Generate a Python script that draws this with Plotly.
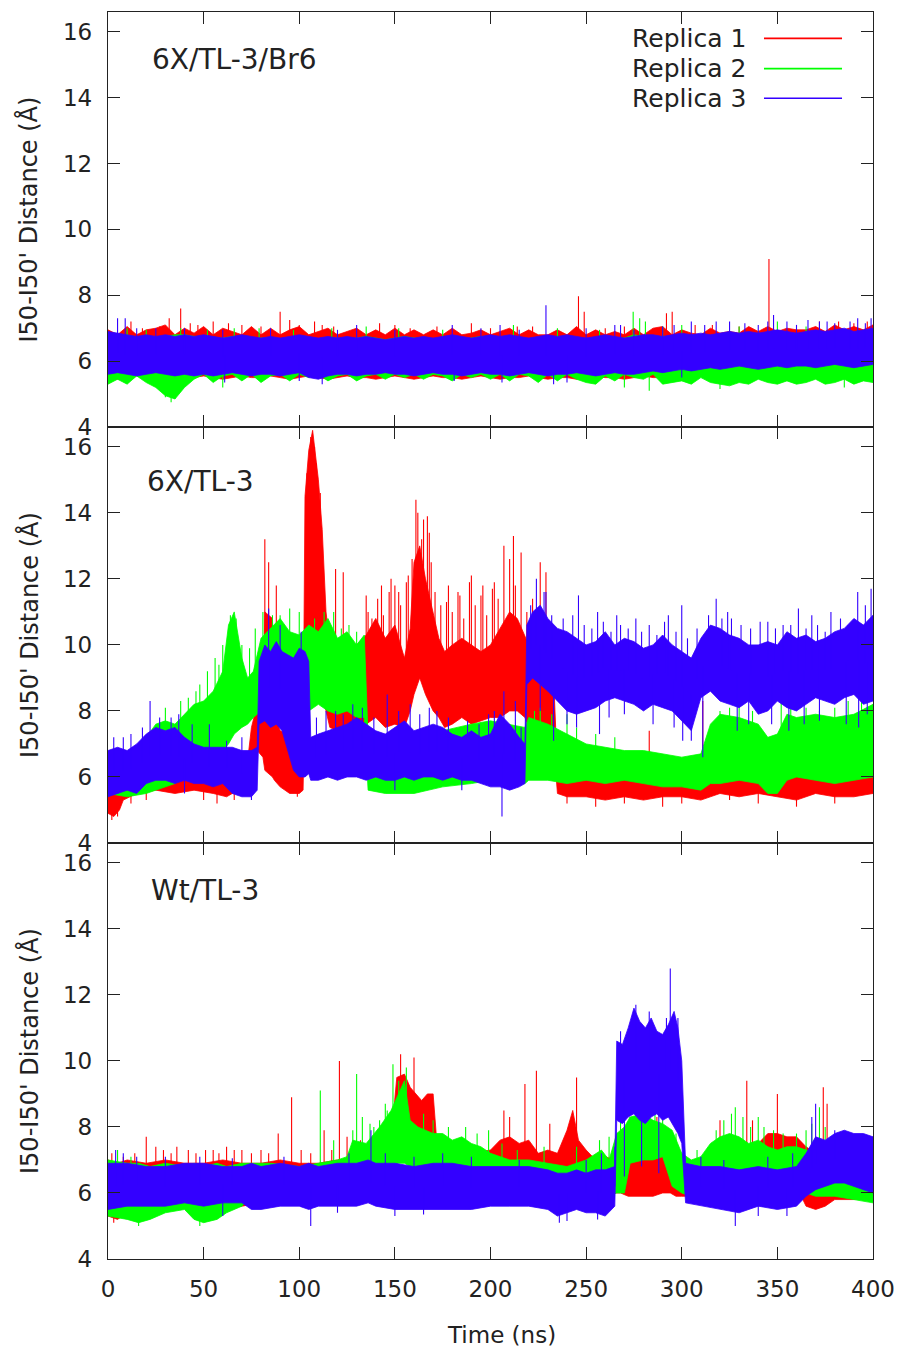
import numpy as np
import plotly.graph_objects as go

# ---------------- data ----------------
SERIES_NAMES = ["Replica 1", "Replica 2", "Replica 3"]
SERIES_COLORS = ["#ff0000", "#00ff00", "#3300ff"]
PANEL_LABELS = ["6X/TL-3/Br6", "6X/TL-3", "Wt/TL-3"]
X_TICKS = [0, 50, 100, 150, 200, 250, 300, 350, 400]
Y_TICKS = [4, 6, 8, 10, 12, 14, 16]

# Panel 1 : common 5-ns grid
P1_T = [0, 5, 10, 15, 20, 25, 30, 35, 40,
        45, 50, 55, 60, 65, 70, 75, 80,
        85, 90, 95, 100, 105, 110, 115, 120,
        125, 130, 135, 140, 145, 150, 155, 160,
        165, 170, 175, 180, 185, 190, 195, 200,
        205, 210, 215, 220, 225, 230, 235, 240,
        245, 250, 255, 260, 265, 270, 275, 280,
        285, 290, 295, 300, 305, 310, 315, 320,
        325, 330, 335, 340, 345, 350, 355, 360,
        365, 370, 375, 380, 385, 390, 395, 400]
P1_R1_HI = [6.95, 6.8, 7.05, 6.8, 6.95, 7.0, 7.1, 6.8, 7.0,
            6.85, 7.05, 6.8, 7.0, 6.9, 6.8, 7.05, 6.8,
            7.0, 6.8, 6.95, 7.05, 6.8, 6.9, 7.0, 6.8,
            6.9, 7.0, 6.8, 6.95, 6.8, 7.0, 6.8, 6.95,
            6.8, 6.95, 6.8, 7.0, 6.8, 6.85, 6.95, 6.8,
            6.9, 7.0, 6.8, 6.95, 6.8, 6.8, 6.95, 6.8,
            7.05, 6.8, 6.95, 6.8, 6.9, 6.8, 7.0, 6.8,
            7.0, 7.05, 6.8, 6.95, 6.85, 6.8, 7.0, 6.85,
            6.9, 6.85, 7.05, 6.9, 7.05, 6.9, 7.0, 6.95,
            6.95, 7.05, 6.9, 7.1, 6.95, 7.05, 6.95, 7.1]
P1_R1_LO = [5.5, 5.45, 5.5, 5.55, 5.5, 5.45, 5.5, 5.55, 5.5,
            5.5, 5.55, 5.5, 5.45, 5.5, 5.55, 5.5, 5.5,
            5.55, 5.5, 5.45, 5.5, 5.55, 5.5, 5.45, 5.5,
            5.55, 5.5, 5.5, 5.45, 5.5, 5.55, 5.5, 5.45,
            5.5, 5.55, 5.5, 5.5, 5.45, 5.5, 5.55, 5.5,
            5.45, 5.5, 5.5, 5.55, 5.5, 5.45, 5.5, 5.5,
            5.45, 5.5, 5.55, 5.5, 5.5, 5.45, 5.5, 5.55,
            5.5, 5.5, 5.55, 5.5, 5.5, 5.6, 5.55, 5.6,
            5.6, 5.55, 5.6, 5.65, 5.6, 5.55, 5.6, 5.6,
            5.65, 5.6, 5.55, 5.6, 5.65, 5.6, 5.6, 5.65]
P1_R2_HI = [6.75, 6.7, 6.8, 6.7, 6.65, 6.7, 6.75, 6.8, 6.8,
            6.75, 6.7, 6.65, 6.7, 6.75, 6.7, 6.65, 6.7,
            6.7, 6.65, 6.7, 6.75, 6.7, 6.65, 6.7, 6.7,
            6.65, 6.7, 6.75, 6.7, 6.65, 6.7, 6.75, 6.7,
            6.7, 6.65, 6.7, 6.7, 6.65, 6.7, 6.75, 6.7,
            6.7, 6.75, 6.7, 6.65, 6.7, 6.7, 6.75, 6.7,
            6.7, 6.65, 6.7, 6.75, 6.7, 6.7, 6.8, 6.75,
            6.7, 6.75, 6.7, 6.7, 6.65, 6.7, 6.75, 6.7,
            6.7, 6.75, 6.7, 6.7, 6.75, 6.8, 6.7, 6.75,
            6.7, 6.75, 6.8, 6.7, 6.75, 6.8, 6.75, 6.8]
P1_R2_LO = [5.3, 5.45, 5.3, 5.55, 5.35, 5.2, 4.95, 4.85, 5.2,
            5.45, 5.6, 5.35, 5.55, 5.6, 5.4, 5.6, 5.35,
            5.55, 5.6, 5.4, 5.6, 5.5, 5.6, 5.4, 5.55,
            5.6, 5.4, 5.55, 5.6, 5.45, 5.6, 5.5, 5.6,
            5.45, 5.6, 5.55, 5.4, 5.6, 5.5, 5.6, 5.45,
            5.6, 5.4, 5.6, 5.55, 5.35, 5.6, 5.4, 5.6,
            5.45, 5.35, 5.3, 5.55, 5.4, 5.6, 5.5, 5.45,
            5.6, 5.3, 5.35, 5.4, 5.3, 5.5, 5.35, 5.3,
            5.25, 5.35, 5.3, 5.45, 5.35, 5.3, 5.4, 5.3,
            5.35, 5.45, 5.3, 5.35, 5.45, 5.3, 5.4, 5.35]
P1_R3_HI = [6.9, 6.85, 6.8, 6.75, 6.8, 6.75, 6.8, 6.75, 6.8,
            6.75, 6.8, 6.75, 6.7, 6.75, 6.8, 6.75, 6.7,
            6.75, 6.7, 6.75, 6.8, 6.75, 6.7, 6.75, 6.7,
            6.75, 6.7, 6.75, 6.7, 6.65, 6.7, 6.75, 6.7,
            6.75, 6.7, 6.75, 6.8, 6.75, 6.7, 6.75, 6.8,
            6.75, 6.8, 6.75, 6.7, 6.75, 6.8, 6.75, 6.8,
            6.75, 6.7, 6.75, 6.8, 6.75, 6.7, 6.75, 6.8,
            6.8, 6.75, 6.8, 6.85, 6.8, 6.85, 6.8, 6.85,
            6.9, 6.85, 6.9, 6.85, 6.9, 6.95, 6.9, 6.85,
            6.9, 6.95, 6.9, 6.95, 7.0, 6.9, 6.95, 7.0]
P1_R3_LO = [5.6, 5.65, 5.6, 5.55, 5.6, 5.65, 5.6, 5.55, 5.6,
            5.55, 5.6, 5.55, 5.6, 5.65, 5.6, 5.55, 5.6,
            5.6, 5.55, 5.6, 5.65, 5.5, 5.45, 5.55, 5.6,
            5.6, 5.55, 5.6, 5.6, 5.65, 5.6, 5.6, 5.55,
            5.6, 5.65, 5.6, 5.6, 5.55, 5.6, 5.65, 5.6,
            5.6, 5.55, 5.6, 5.65, 5.6, 5.55, 5.6, 5.6,
            5.65, 5.6, 5.55, 5.6, 5.65, 5.6, 5.6, 5.65,
            5.7, 5.65, 5.7, 5.75, 5.7, 5.75, 5.8, 5.75,
            5.8, 5.85, 5.8, 5.75, 5.8, 5.85, 5.8, 5.85,
            5.85, 5.8, 5.85, 5.9, 5.85, 5.8, 5.85, 5.9]
P1_R1_SPK_T = [12, 18, 27, 32, 38, 43, 47, 55, 63, 70, 80, 90, 95, 100, 108, 112, 118, 130, 142, 150,
               158, 172, 190, 200, 214, 222, 246, 249, 260, 270, 292, 295, 307, 316, 330, 345.6, 372,
               382, 390, 397]
P1_R1_SPK_V = [7.2, 7.0, 7.05, 7.3, 7.6, 7.15, 7.1, 7.2, 7.15, 7.1, 7.05, 7.5, 7.25, 7.1, 7.2, 7.1, 7.05, 7.0,
               7.15, 7.1, 7.0, 7.05, 7.15, 7.0, 7.05, 7.05, 7.97, 7.5, 7.0, 7.05, 7.45, 7.5, 7.1, 7.1, 7.05,
               9.1, 7.2, 7.2, 7.15, 7.2]
P1_R2_SPK_T = [10, 20, 30, 33, 35, 38, 52, 60, 66, 79, 97, 117, 135, 152, 175, 212, 235, 257, 270,
               274.6, 278, 281, 283, 290, 300, 320, 330, 350, 365, 385]
P1_R2_SPK_V = [7.0, 6.95, 4.9, 4.75, 4.85, 7.0, 6.95, 5.2, 7.0, 7.0, 6.95, 7.0, 7.05, 7.0, 6.95, 7.1, 7.0, 6.95,
               5.2, 7.5, 7.3, 7.2, 5.1, 7.05, 7.1, 5.15, 7.05, 7.2, 7.05, 5.2]
P1_R3_SPK_T = [5, 9, 15, 25, 40, 60, 61, 85, 100, 112, 120, 130, 150, 180, 181, 195, 205, 206, 215,
               229, 233, 240, 250, 265, 268, 275, 290, 296, 300, 305, 312, 318, 325, 333, 340, 345,
               348, 355, 360, 366, 372, 376, 380, 388, 392, 396, 399]
P1_R3_SPK_V = [7.3, 7.3, 7.0, 7.0, 7.0, 6.95, 5.35, 7.0, 5.4, 5.3, 6.95, 7.1, 6.95, 7.1, 5.4, 7.0, 7.1, 5.35,
               6.95, 7.7, 5.3, 5.35, 7.0, 7.1, 7.1, 6.95, 7.05, 7.1, 5.5, 7.2, 7.1, 7.2, 7.2, 7.15, 7.1,
               7.2, 7.4, 7.2, 7.1, 7.25, 7.2, 7.2, 7.15, 7.2, 7.3, 7.15, 7.3]

# Panel 2
P2_R1_T = [0, 3, 6, 8, 15, 25, 35, 45, 55, 62,
           68, 73, 75, 78, 81, 82, 86, 87, 90, 95,
           100, 102, 103, 105, 107, 110, 112, 114, 116, 120,
           125, 130, 135, 140, 145, 150, 155, 158, 160, 163,
           166, 170, 173, 176, 180, 185, 190, 195, 200, 205,
           210, 214, 218, 220, 225, 230, 233, 235, 240, 250,
           260, 270, 280, 290, 300, 310, 315, 320, 330, 340,
           350, 360, 370, 380, 390, 400]
P2_R1_LO = [4.9, 4.8, 5.0, 5.3, 5.5, 5.6, 5.5, 5.6, 5.5, 5.4,
            5.6, 5.7, 6.5, 6.8, 6.6, 6.2, 6.0, 5.9, 5.7, 5.5,
            5.5, 5.6, 8.5, 9.0, 9.5, 9.0, 8.5, 8.0, 7.5, 7.4,
            7.5, 7.5, 7.6, 7.8, 7.5, 7.6, 7.5, 8.0, 8.5, 9.0,
            8.5, 8.0, 7.8, 7.5, 7.6, 7.8, 7.6, 7.7, 7.8, 7.8,
            8.0, 8.0, 7.8, 7.5, 7.3, 7.2, 7.0, 5.5, 5.4, 5.4,
            5.3, 5.4, 5.3, 5.4, 5.4, 5.3, 5.4, 5.5, 5.4, 5.5,
            5.4, 5.3, 5.5, 5.4, 5.4, 5.5]
P2_R1_HI = [6.5, 6.6, 6.6, 6.5, 6.6, 6.5, 6.4, 6.3, 6.3, 6.2,
            6.3, 6.5, 7.5, 8.2, 8.0, 11.0, 10.8, 7.9, 7.4, 7.3,
            7.4, 7.0, 14.5, 15.9, 16.5, 15.0, 13.5, 11.0, 10.0, 10.0,
            9.8, 10.0, 10.3, 10.8, 10.2, 10.6, 9.6, 10.5, 12.5, 13.0,
            12.0, 11.0, 10.2, 9.8, 10.0, 10.2, 10.0, 9.8, 10.0, 10.5,
            11.0, 10.8, 10.3, 10.0, 9.8, 9.5, 9.0, 6.2, 6.2, 6.1,
            6.1, 6.0, 6.1, 6.0, 6.1, 6.1, 6.2, 6.4, 6.6, 6.5,
            6.6, 6.3, 6.7, 6.5, 6.4, 6.3]
P2_R2_T = [0, 10, 20, 25, 30, 35, 40, 45, 50, 55,
           60, 63, 66, 70, 73, 76, 80, 85, 90, 95,
           100, 105, 110, 115, 120, 125, 130, 134, 136, 145,
           160, 175, 190, 200, 210, 218, 220, 230, 240, 250,
           260, 270, 280, 290, 300, 310, 315, 320, 330, 340,
           345, 350, 355, 360, 370, 380, 390, 400]
P2_R2_LO = [5.5, 5.4, 5.5, 5.6, 5.7, 5.8, 6.0, 6.2, 6.3, 6.5,
            6.8, 7.0, 7.3, 7.5, 7.6, 7.8, 8.0, 8.0, 8.2, 8.0,
            8.0, 8.0, 8.2, 8.0, 7.9, 8.0, 7.8, 7.8, 5.6, 5.5,
            5.5, 5.7, 5.8, 5.9, 5.8, 5.8, 5.9, 5.9, 5.8, 5.9,
            5.8, 5.9, 5.8, 5.7, 5.7, 5.6, 5.8, 5.8, 5.9, 5.8,
            5.5, 5.5, 5.9, 6.0, 5.9, 5.8, 5.9, 6.0]
P2_R2_HI = [6.4, 6.6, 7.2, 7.6, 7.7, 7.6, 7.9, 8.2, 8.3, 8.6,
            9.2, 10.6, 11.0, 9.6, 9.0, 9.2, 10.2, 10.5, 10.8, 10.4,
            10.3, 10.6, 10.4, 10.8, 10.2, 10.4, 10.0, 10.3, 7.2, 7.0,
            7.2, 7.4, 7.6, 7.7, 7.6, 7.5, 7.8, 7.6, 7.3, 7.0,
            6.9, 6.8, 6.8, 6.7, 6.6, 6.7, 7.6, 7.9, 7.8, 7.6,
            7.2, 7.3, 7.9, 7.8, 7.9, 7.8, 7.9, 8.2]
P2_R3_T = [0, 5, 10, 15, 20, 25, 30, 35, 40, 45,
           50, 55, 60, 65, 70, 75, 78, 79, 82, 85,
           88, 91, 94, 97, 100, 103, 105, 106, 110, 115,
           120, 125, 130, 135, 140, 145, 150, 155, 160, 165,
           170, 175, 180, 185, 190, 195, 200, 205, 210, 215,
           218, 219, 222, 226, 230, 235, 240, 245, 250, 255,
           260, 265, 270, 275, 280, 285, 290, 295, 300, 305,
           310, 315, 320, 325, 330, 335, 340, 345, 350, 355,
           360, 365, 370, 375, 380, 385, 390, 395, 400]
P2_R3_LO = [5.4, 5.5, 5.6, 5.5, 5.8, 5.9, 5.9, 5.8, 5.9, 5.8,
            5.8, 5.7, 5.8, 5.5, 5.4, 5.4, 5.6, 7.6, 7.7, 7.5,
            7.6, 7.4, 6.8, 6.2, 6.0, 6.0, 6.1, 5.9, 5.9, 6.0,
            5.9, 6.0, 6.0, 5.9, 6.0, 5.9, 5.9, 6.0, 5.9, 6.0,
            6.0, 5.9, 6.0, 5.9, 5.9, 5.8, 5.7, 5.7, 5.6, 5.7,
            5.8, 8.8, 9.0, 8.8, 8.6, 8.3, 8.0, 7.9, 8.0, 8.1,
            8.3, 8.4, 8.3, 8.2, 8.0, 8.2, 8.1, 8.0, 7.7, 7.4,
            8.4, 8.6, 8.3, 8.2, 8.1, 8.3, 7.9, 8.0, 8.3, 8.1,
            8.0, 8.2, 8.4, 8.3, 8.2, 8.4, 8.5, 8.2, 8.3]
P2_R3_HI = [6.8, 6.9, 6.8, 7.0, 7.3, 7.5, 7.4, 7.5, 7.2, 7.0,
            6.9, 6.9, 6.9, 6.9, 6.8, 6.8, 6.9, 9.5, 10.0, 9.8,
            10.1, 9.8, 9.7, 9.6, 9.9, 9.8, 9.5, 7.2, 7.3, 7.4,
            7.5, 7.6, 7.8, 7.6, 7.4, 7.3, 7.5, 7.7, 7.4, 7.5,
            7.6, 7.5, 7.3, 7.2, 7.4, 7.2, 7.3, 7.9, 7.6, 7.2,
            7.0, 10.6, 11.0, 11.2, 10.8, 10.5, 10.4, 10.2, 10.0, 10.1,
            10.4, 10.0, 10.2, 10.1, 9.9, 10.0, 10.3, 10.0, 9.8, 9.6,
            10.2, 10.6, 10.5, 10.3, 10.2, 10.0, 10.0, 10.1, 10.0, 10.4,
            10.2, 10.3, 10.1, 10.2, 10.4, 10.5, 10.8, 10.6, 10.9]
P2_R1_SPK_T = [2, 5, 12, 20, 50, 57, 66, 82, 84, 88, 99, 104, 106, 108, 109, 111, 119, 123, 135, 136,
               138, 141, 143, 144, 147, 148, 150, 152, 153, 156, 157, 159, 161, 162, 164, 165, 167,
               168, 169, 171, 174, 177, 178, 180, 183, 184, 186, 189, 190, 192, 195, 196, 198, 201,
               202, 204, 207, 210, 212, 213, 216, 219, 222, 226, 229, 240, 255, 270, 283, 290, 300,
               311, 320, 325, 335, 340, 345, 360, 365, 375, 380]
P2_R1_SPK_V = [4.7, 4.8, 5.2, 5.3, 5.3, 5.2, 5.3, 13.2, 12.5, 11.8, 5.4, 15.2, 16.3, 16.0, 15.5, 14.6, 12.3,
               12.2, 11.5, 11.0, 10.8, 11.4, 11.8, 10.9, 11.6, 12.0, 11.8, 11.6, 11.2, 11.9, 12.1, 12.6,
               14.4, 14.0, 13.2, 13.8, 13.9, 13.4, 12.5, 11.6, 11.2, 11.3, 11.8, 11.0, 11.6, 11.5, 10.8,
               11.9, 12.1, 11.2, 11.5, 11.8, 10.9, 11.7, 11.9, 11.4, 13.0, 12.6, 13.3, 11.8, 12.8, 11.0,
               11.4, 12.5, 12.2, 5.2, 5.1, 5.2, 7.4, 5.1, 5.2, 8.3, 6.8, 5.3, 6.9, 5.2, 7.0, 5.1, 6.9,
               7.0, 5.2]
P2_R2_SPK_T = [30, 38, 42, 46, 48, 52, 56, 58, 60, 64, 67, 70, 74, 77, 81, 86, 90, 95, 100, 108, 113,
               118, 122, 126, 130, 223, 226, 232, 240, 245, 255, 265, 320, 325, 330, 337, 352, 357,
               365, 372, 380, 387, 394, 398]
P2_R2_SPK_V = [8.1, 8.3, 8.4, 8.6, 8.8, 9.2, 9.6, 9.4, 10.0, 10.9, 10.8, 10.0, 9.9, 10.5, 11.0, 10.9,
               10.9, 11.1, 11.0, 10.8, 11.0, 11.0, 10.5, 10.6, 10.4, 8.0, 8.1, 7.9, 7.9, 7.5, 7.3, 7.2,
               8.0, 8.1, 8.2, 8.0, 8.3, 8.2, 8.1, 8.0, 8.1, 8.3, 8.5, 8.0]
P2_R3_SPK_T = [3, 8, 12, 18, 22, 27, 33, 37, 40, 44, 53, 62, 70, 75, 84, 90, 101, 109, 114, 119, 123,
               128, 133, 139, 146, 150, 152, 158, 163, 168, 172, 178, 185, 188, 194, 199, 202, 206,
               207, 213, 216, 221, 224, 226, 228, 229, 232, 233, 238, 240, 243, 245, 246, 249, 253,
               256, 257, 259, 262, 263, 266, 268, 270, 272, 276, 279, 283, 285, 287, 291, 293, 296,
               297, 300, 300.5, 303, 305, 308, 311, 314, 318, 321, 324, 326, 329, 331, 335, 336, 341,
               345, 347, 349, 353, 356, 357, 361, 364, 365, 368, 371, 372, 375, 378, 383, 386, 387,
               392, 392.5, 396, 397, 399]
P2_R3_SPK_V = [7.2, 7.2, 7.3, 7.5, 8.3, 7.8, 7.8, 7.9, 5.5, 7.6, 7.6, 7.1, 7.2, 5.3, 11.1, 10.6, 10.4,
               7.8, 8.0, 8.0, 7.9, 8.2, 8.1, 7.8, 8.5, 5.6, 8.0, 8.2, 7.9, 8.1, 8.0, 7.8, 5.6, 7.7, 7.6,
               7.9, 8.0, 4.8, 8.6, 8.3, 7.5, 11.2, 12.0, 8.0, 11.6, 11.6, 10.9, 7.1, 10.8, 7.6, 10.9,
               7.5, 11.5, 10.6, 10.5, 11.0, 7.3, 10.7, 7.8, 10.4, 10.9, 10.6, 7.9, 10.5, 10.8, 10.4,
               10.6, 7.6, 10.3, 10.7, 10.9, 7.5, 10.4, 11.2, 7.1, 10.2, 7.1, 10.5, 6.6, 10.9, 11.4,
               10.8, 11.0, 10.8, 7.4, 10.6, 7.6, 10.5, 10.7, 10.7, 7.6, 10.5, 10.6, 7.4, 10.6, 11.1,
               7.6, 10.5, 10.9, 10.6, 7.7, 10.4, 11.0, 10.8, 7.6, 10.6, 11.6, 7.5, 11.2, 7.9, 11.7]

# Panel 3
P3_R1_T = [0, 5, 10, 20, 30, 40, 50, 60, 70, 80,
           90, 100, 110, 120, 125, 130, 140, 148, 151, 155,
           158, 161, 164, 167, 170, 172, 180, 190, 200, 205,
           210, 215, 220, 225, 230, 235, 240, 243, 246, 250,
           255, 260, 265, 268, 272, 275, 280, 285, 290, 294,
           297, 300, 310, 320, 330, 340, 345, 350, 355, 360,
           365, 370, 375, 380, 390, 400]
P3_R1_LO = [5.3, 5.2, 5.4, 5.5, 5.5, 5.6, 5.6, 5.6, 5.6, 5.7,
            5.7, 5.7, 5.8, 5.8, 5.9, 6.0, 6.2, 6.5, 7.0, 7.2,
            7.4, 7.4, 7.3, 7.3, 7.2, 6.4, 6.2, 6.2, 6.3, 6.4,
            6.4, 6.3, 6.3, 6.2, 6.2, 6.3, 6.3, 6.4, 6.3, 6.2,
            6.1, 6.1, 6.0, 6.0, 5.9, 5.9, 5.9, 5.9, 6.0, 6.0,
            5.9, 5.9, 5.9, 6.0, 6.1, 6.1, 6.3, 6.3, 6.4, 6.2,
            5.6, 5.5, 5.6, 5.8, 5.8, 5.9]
P3_R1_HI = [7.0, 6.9, 7.0, 6.9, 7.0, 6.9, 6.9, 7.0, 6.9, 6.9,
            7.0, 6.9, 6.9, 7.0, 7.0, 7.1, 7.2, 7.6, 9.5, 9.6,
            9.2, 9.0, 8.8, 9.0, 9.0, 7.5, 7.3, 7.2, 7.3, 7.6,
            7.7, 7.5, 7.6, 7.2, 7.3, 7.2, 7.9, 8.5, 7.6, 7.3,
            7.0, 7.1, 7.0, 7.3, 7.0, 7.0, 7.2, 7.3, 7.8, 7.6,
            7.0, 6.9, 7.0, 7.2, 7.4, 7.5, 7.8, 7.8, 7.7, 7.7,
            7.4, 7.2, 7.3, 7.2, 7.1, 7.0]
P3_R2_T = [0, 10, 16, 22, 30, 40, 45, 50, 57, 62,
           70, 78, 85, 100, 120, 125, 128, 135, 142, 148,
           152, 155, 158, 162, 166, 170, 175, 180, 185, 190,
           195, 200, 210, 220, 230, 240, 250, 258, 262, 266,
           270, 273, 280, 285, 290, 295, 300, 305, 310, 315,
           320, 325, 330, 335, 340, 345, 350, 355, 360, 365,
           370, 375, 380, 390, 400]
P3_R2_LO = [5.3, 5.2, 5.1, 5.2, 5.4, 5.5, 5.2, 5.1, 5.2, 5.4,
            5.6, 6.1, 5.6, 5.7, 5.8, 6.0, 6.4, 6.5, 6.6, 6.8,
            6.9, 6.9, 6.8, 6.7, 6.6, 6.6, 6.5, 6.4, 6.4, 6.3,
            6.2, 6.1, 6.0, 5.9, 5.8, 5.8, 5.9, 6.0, 5.9, 6.0,
            6.0, 6.9, 7.0, 7.0, 7.1, 6.2, 6.0, 5.9, 5.9, 6.2,
            6.3, 6.4, 6.3, 6.3, 6.2, 6.3, 6.2, 6.2, 6.2, 6.0,
            5.9, 5.9, 5.9, 5.8, 5.7]
P3_R2_HI = [7.0, 6.9, 6.9, 6.8, 6.9, 6.8, 6.9, 6.8, 6.9, 6.8,
            6.9, 6.9, 6.9, 6.8, 7.0, 7.1, 7.6, 7.5, 8.0, 8.5,
            9.0, 9.4, 8.2, 8.0, 7.9, 7.8, 7.8, 7.6, 7.7, 7.5,
            7.4, 7.2, 7.0, 7.0, 6.9, 6.8, 7.0, 7.3, 7.0, 7.8,
            8.0, 8.3, 8.4, 8.2, 8.1, 7.9, 7.2, 7.0, 7.1, 7.5,
            7.7, 7.8, 7.7, 7.5, 7.6, 7.4, 7.3, 7.4, 7.4, 7.3,
            7.2, 6.9, 6.8, 6.7, 6.6]
P3_R3_T = [0, 10, 20, 30, 40, 50, 60, 70, 75, 80,
           90, 100, 105, 110, 120, 130, 136, 140, 150, 160,
           170, 180, 190, 200, 210, 220, 230, 235, 240, 245,
           250, 255, 260, 265, 266, 269, 272, 275, 278, 281,
           284, 287, 290, 293, 296, 298, 300, 302, 310, 320,
           330, 340, 350, 360, 365, 370, 375, 380, 385, 390,
           395, 400]
P3_R3_LO = [5.5, 5.6, 5.6, 5.6, 5.7, 5.6, 5.7, 5.7, 5.5, 5.5,
            5.6, 5.6, 5.5, 5.6, 5.6, 5.6, 5.7, 5.6, 5.5, 5.5,
            5.5, 5.5, 5.5, 5.6, 5.6, 5.6, 5.5, 5.3, 5.4, 5.5,
            5.4, 5.4, 5.3, 5.6, 8.2, 8.1, 8.3, 8.4, 8.2, 8.1,
            8.3, 8.4, 8.2, 8.3, 8.0, 7.8, 7.5, 5.7, 5.6, 5.5,
            5.4, 5.6, 5.5, 5.6, 5.9, 6.1, 6.2, 6.3, 6.3, 6.2,
            6.1, 6.0]
P3_R3_HI = [6.9, 6.9, 6.8, 6.8, 6.9, 6.9, 6.8, 6.8, 6.9, 6.8,
            6.9, 6.8, 6.9, 6.8, 6.9, 6.9, 7.0, 6.9, 6.9, 6.8,
            6.9, 6.9, 6.8, 6.8, 6.8, 6.8, 6.7, 6.6, 6.6, 6.7,
            6.6, 6.7, 6.7, 6.8, 10.6, 10.5, 11.0, 11.6, 11.2, 11.0,
            11.3, 10.9, 10.8, 11.1, 11.5, 11.0, 10.0, 6.9, 6.8, 6.8,
            6.7, 6.8, 6.7, 6.8, 7.2, 7.7, 7.6, 7.8, 7.9, 7.8,
            7.8, 7.7]
P3_R1_SPK_T = [2, 3, 8, 14, 20, 25, 29, 33, 36, 42, 46, 51, 55, 58, 62, 66, 70, 75, 80, 84, 89, 96,
               101, 106, 113, 117, 121, 125, 128, 132, 153, 160, 207, 210, 218, 224, 231, 245, 273,
               287, 320, 334, 337, 350, 374, 376]
P3_R1_SPK_V = [7.2, 5.1, 7.1, 7.2, 7.7, 7.4, 7.3, 7.2, 7.4, 7.3, 7.2, 7.3, 7.3, 7.2, 7.4, 7.3, 7.3, 7.2,
               7.3, 7.2, 7.8, 8.9, 7.3, 7.2, 7.9, 7.3, 10.0, 7.7, 7.5, 7.6, 10.2, 10.1, 8.5, 8.3, 9.3,
               9.7, 8.1, 9.5, 8.0, 8.3, 8.2, 9.4, 8.2, 9.0, 9.2, 8.7]
P3_R2_SPK_T = [5, 12, 16, 48, 111, 118, 128, 130, 133, 137, 139, 142, 145, 146, 149, 152, 156, 165,
               170, 178, 187, 193, 199, 206, 214, 228, 245, 257, 262, 268, 273, 277, 282, 286, 290,
               297, 308, 318, 322, 326, 328, 332, 336, 340, 343, 348, 353, 360, 365, 368, 372, 375,
               396]
P3_R2_SPK_V = [7.3, 7.1, 5.0, 5.0, 9.1, 7.6, 7.9, 9.6, 8.3, 8.1, 8.0, 8.2, 8.7, 8.5, 9.9, 9.4, 9.8, 8.4,
               8.2, 8.0, 8.0, 7.8, 7.9, 7.5, 7.3, 7.4, 7.4, 7.6, 7.7, 8.7, 8.3, 8.6, 9.0, 8.5, 8.7,
               7.8, 7.3, 7.9, 8.2, 8.4, 8.6, 8.3, 8.0, 8.3, 8.0, 7.9, 7.8, 7.8, 7.9, 8.1, 8.6, 8.0,
               7.3]
P3_R3_SPK_T = [4, 8, 15, 30, 48, 60, 65, 92, 106, 120, 126, 137.5, 145, 150, 160, 165, 175, 190, 215,
               236, 240, 250, 256, 258, 265, 268, 270, 276, 279, 283, 288, 292, 294, 298, 310, 322,
               328, 340, 345, 355, 358, 368, 370, 380]
P3_R3_SPK_V = [7.3, 7.2, 7.1, 7.1, 7.1, 5.3, 7.05, 7.1, 5.0, 5.4, 7.2, 7.9, 7.2, 5.3, 7.1, 5.35, 7.2,
               7.1, 7.0, 5.1, 5.15, 7.0, 5.2, 7.2, 7.4, 10.9, 6.5, 11.7, 6.8, 11.5, 6.6, 11.3, 12.8,
               11.3, 7.1, 7.0, 5.0, 5.3, 7.1, 5.3, 7.2, 8.3, 8.7, 7.9]

PANELS = [
    [(P1_T, P1_R1_LO, P1_R1_HI, P1_R1_SPK_T, P1_R1_SPK_V),
     (P1_T, P1_R2_LO, P1_R2_HI, P1_R2_SPK_T, P1_R2_SPK_V),
     (P1_T, P1_R3_LO, P1_R3_HI, P1_R3_SPK_T, P1_R3_SPK_V)],
    [(P2_R1_T, P2_R1_LO, P2_R1_HI, P2_R1_SPK_T, P2_R1_SPK_V),
     (P2_R2_T, P2_R2_LO, P2_R2_HI, P2_R2_SPK_T, P2_R2_SPK_V),
     (P2_R3_T, P2_R3_LO, P2_R3_HI, P2_R3_SPK_T, P2_R3_SPK_V)],
    [(P3_R1_T, P3_R1_LO, P3_R1_HI, P3_R1_SPK_T, P3_R1_SPK_V),
     (P3_R2_T, P3_R2_LO, P3_R2_HI, P3_R2_SPK_T, P3_R2_SPK_V),
     (P3_R3_T, P3_R3_LO, P3_R3_HI, P3_R3_SPK_T, P3_R3_SPK_V)],
]

# ---------------- figure ----------------
FONT = "DejaVu Sans, Verdana, sans-serif"
TXT = "#222222"
fig = go.Figure()

for p, series in enumerate(PANELS):
    xa = "x" if p == 0 else f"x{p + 1}"
    ya = "y" if p == 0 else f"y{p + 1}"
    for s, (T, LO, HI, ST, SV) in enumerate(series):
        assert len(T) == len(LO) == len(HI), (p, s)
        assert len(ST) == len(SV), (p, s)
        col = SERIES_COLORS[s]
        fig.add_trace(go.Scatter(
            x=list(T) + list(T)[::-1], y=list(HI) + list(LO)[::-1],
            fill="toself", fillcolor=col, mode="lines",
            line=dict(color=col, width=0.8),
            xaxis=xa, yaxis=ya, showlegend=False, hoverinfo="skip",
            name=SERIES_NAMES[s]))
        mid = (np.array(LO) + np.array(HI)) / 2.0
        sx, sy = [], []
        for t, v in zip(ST, SV):
            base = float(np.interp(t, T, mid))
            sx += [t, t, None]
            sy += [base, v, None]
        fig.add_trace(go.Scatter(
            x=sx, y=sy, mode="lines", line=dict(color=col, width=1.1),
            xaxis=xa, yaxis=ya, showlegend=False, hoverinfo="skip",
            name=SERIES_NAMES[s]))

domains = [[0.6672, 1.0], [0.3336, 0.6672], [0.0, 0.3336]]
axis_common = dict(showline=True, linecolor=TXT, linewidth=1.3, mirror="allticks",
                   ticks="inside", ticklen=12, tickwidth=1.3, tickcolor=TXT,
                   showgrid=False, zeroline=False,
                   tickfont=dict(family=FONT, size=23, color=TXT))
# page body has an 8px margin: size the figure so the plot lands where the reference has it
layout = dict(width=895, height=1343, paper_bgcolor="white", plot_bgcolor="white",
              margin=dict(l=100, r=30, t=4, b=92), showlegend=False)
for p in range(3):
    xk = "xaxis" if p == 0 else f"xaxis{p + 1}"
    yk = "yaxis" if p == 0 else f"yaxis{p + 1}"
    ya = "y" if p == 0 else f"y{p + 1}"
    xa = "x" if p == 0 else f"x{p + 1}"
    layout[xk] = dict(domain=[0, 1], anchor=ya, range=[0, 400], tickvals=X_TICKS,
                      showticklabels=(p == 2), ticklabelstandoff=9, **axis_common)
    layout[yk] = dict(domain=domains[p], anchor=xa, range=[4, 16.6], tickvals=Y_TICKS,
                      ticklabelstandoff=10, **axis_common)
fig.update_layout(**layout)

annotations = []
shapes = []
label_pos = [(22.2, 15.15), (19.6, 14.95), (21.3, 15.15)]
for p in range(3):
    xa = "x" if p == 0 else f"x{p + 1}"
    ya = "y" if p == 0 else f"y{p + 1}"
    annotations.append(dict(text=PANEL_LABELS[p], x=label_pos[p][0], y=label_pos[p][1],
                            xref=xa, yref=ya, xanchor="left", yanchor="middle", showarrow=False,
                            font=dict(family=FONT, size=28, color=TXT)))
    dom = domains[p]
    annotations.append(dict(text="I50-I50' Distance (Å)", x=-0.1033, y=(dom[0] + dom[1]) / 2,
                            xref="paper", yref="paper", xanchor="center", yanchor="middle",
                            textangle=-90, showarrow=False,
                            font=dict(family=FONT, size=24, color=TXT)))
annotations.append(dict(text="Time (ns)", x=0.515, y=-0.061, xref="paper", yref="paper",
                        xanchor="center", yanchor="middle", showarrow=False,
                        font=dict(family=FONT, size=23, color=TXT)))

legend_y = [15.8, 14.88, 13.98]
for s in range(3):
    annotations.append(dict(text=SERIES_NAMES[s], x=334.6, y=legend_y[s], xref="x", yref="y",
                            xanchor="right", yanchor="middle", showarrow=False,
                            font=dict(family=FONT, size=25, color=TXT)))
    shapes.append(dict(type="line", xref="x", yref="y", x0=343.0, x1=383.8,
                       y0=legend_y[s], y1=legend_y[s],
                       line=dict(color=SERIES_COLORS[s], width=1.6)))
fig.update_layout(annotations=annotations, shapes=shapes)

fig.write_html("out.html")
